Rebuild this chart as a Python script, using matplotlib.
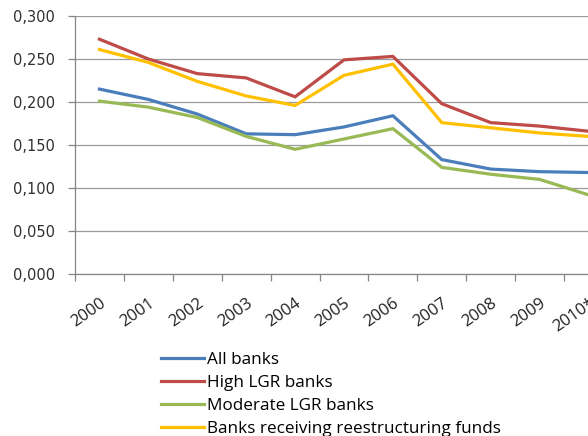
import matplotlib
matplotlib.use("Agg")
import matplotlib.pyplot as plt
import matplotlib.transforms as mtransforms
import numpy as np

years = ["2000", "2001", "2002", "2003", "2004", "2005",
         "2006", "2007", "2008", "2009", "2010*"]

all_banks = [0.215, 0.203, 0.186, 0.163, 0.162, 0.171, 0.184, 0.133, 0.122, 0.119, 0.118]
high_lgr = [0.273, 0.250, 0.233, 0.228, 0.206, 0.249, 0.253, 0.198, 0.176, 0.172, 0.166]
moderate_lgr = [0.201, 0.194, 0.182, 0.160, 0.145, 0.157, 0.169, 0.124, 0.116, 0.110, 0.092]
restructuring = [0.261, 0.246, 0.224, 0.207, 0.196, 0.231, 0.244, 0.176, 0.170, 0.164, 0.160]

series = [
    ("All banks", all_banks, "#4A7EBB"),
    ("High LGR banks", high_lgr, "#BE4B48"),
    ("Moderate LGR banks", moderate_lgr, "#98B954"),
    ("Banks receiving reestructuring funds", restructuring, "#FFC000"),
]

fig = plt.figure(figsize=(5.88, 4.36), dpi=100)
# plot area runs a little past the right edge of the figure
ax = fig.add_axes([75 / 588, 1 - 274 / 436, 538 / 588, 258 / 436])

x = np.arange(len(years))
for name, vals, col in series:
    ax.plot(x, vals, color=col, lw=2.3, label=name, solid_joinstyle="miter")

ax.set_xlim(-0.5, len(years) - 0.5)
ax.set_ylim(0, 0.3)
yt = np.arange(0, 0.301, 0.05)
ax.set_yticks(yt)
ax.set_yticklabels([f"{v:.3f}".replace(".", ",") for v in yt],
                   fontsize=10.5, color="#303030")
ax.yaxis.grid(True, color="#9a9a9a", lw=0.9)
ax.set_axisbelow(True)

ax.set_xticks(x)
ax.set_xticklabels(years, rotation=35, ha="right", rotation_mode="anchor",
                   fontsize=12, color="#202020", family="Open Sans")
shift = mtransforms.ScaledTranslation(5 / 100, 0, fig.dpi_scale_trans)
for lbl in ax.get_xticklabels():
    lbl.set_transform(lbl.get_transform() + shift)
ax.tick_params(axis="x", length=0, pad=15)
ax.set_xticks(np.arange(-0.5, len(years), 1), minor=True)
ax.tick_params(axis="x", which="minor", length=5, color="#868686", width=0.9)
ax.tick_params(axis="y", length=5, color="#868686", width=0.9, pad=9.5)

for s in ["top", "right"]:
    ax.spines[s].set_visible(False)
for s in ["left", "bottom"]:
    ax.spines[s].set_color("#868686")
    ax.spines[s].set_linewidth(0.9)

fig.legend(loc="upper left", bbox_to_anchor=(161 / 588, 1 - 352 / 436),
           frameon=False, handlelength=2.5, handletextpad=0.2,
           labelspacing=0.4, borderaxespad=0, borderpad=0,
           prop={"family": "Open Sans", "size": 12.3})

fig.savefig("out.png", dpi=100)
